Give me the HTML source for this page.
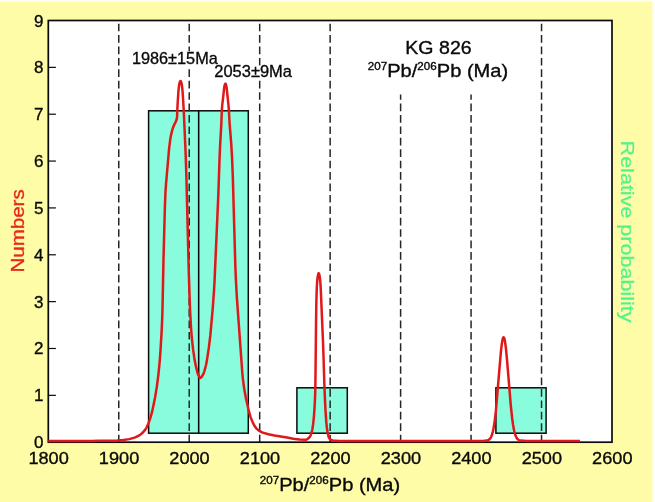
<!DOCTYPE html>
<html lang="en"><head><meta charset="utf-8"><title>KG 826 probability density plot</title>
<style>
html,body{margin:0;padding:0;background:#fffca8;}
body{width:655px;height:502px;overflow:hidden;}
svg{display:block;}
text{font-family:"Liberation Sans",Arial,Helvetica,sans-serif;}
</style></head><body>
<svg width="655" height="502" viewBox="0 0 655 502">
<rect x="0" y="0" width="655" height="502" fill="#fffca8"/>
<rect x="0" y="0" width="655" height="1.8" fill="#fffef2"/>
<rect x="652.3" y="0" width="2.7" height="502" fill="#fffef2"/>
<rect x="48.3" y="20.5" width="563.7" height="421.7" fill="#ffffff"/>
<rect x="148.6" y="110.8" width="50.10" height="322.40" fill="#88fcdc" stroke="#0a0a0a" stroke-width="1.5"/>
<rect x="198.7" y="110.8" width="49.60" height="322.40" fill="#88fcdc" stroke="#0a0a0a" stroke-width="1.5"/>
<rect x="296.9" y="387.8" width="50.40" height="45.40" fill="#88fcdc" stroke="#0a0a0a" stroke-width="1.5"/>
<rect x="495.9" y="387.8" width="50.20" height="45.40" fill="#88fcdc" stroke="#0a0a0a" stroke-width="1.5"/>
<line x1="118.76" y1="23.66" x2="118.76" y2="442.2" stroke="#262626" stroke-width="1.5" stroke-dasharray="7.7 3.717"/>
<line x1="189.23" y1="23.66" x2="189.23" y2="442.2" stroke="#262626" stroke-width="1.5" stroke-dasharray="7.7 3.717"/>
<line x1="259.69" y1="23.66" x2="259.69" y2="442.2" stroke="#262626" stroke-width="1.5" stroke-dasharray="7.7 3.717"/>
<line x1="330.15" y1="23.66" x2="330.15" y2="442.2" stroke="#262626" stroke-width="1.5" stroke-dasharray="7.7 3.717"/>
<line x1="541.54" y1="23.66" x2="541.54" y2="442.2" stroke="#262626" stroke-width="1.5" stroke-dasharray="7.7 3.717"/>
<line x1="400.61" y1="94.5" x2="400.61" y2="442.2" stroke="#262626" stroke-width="1.5" stroke-dasharray="7.7 3.717" stroke-dashoffset="2.34"/>
<line x1="471.07" y1="94.5" x2="471.07" y2="442.2" stroke="#262626" stroke-width="1.5" stroke-dasharray="7.7 3.717" stroke-dashoffset="2.34"/>
<rect x="130" y="51.2" width="90" height="15.8" fill="#ffffff"/>
<rect x="212" y="65.8" width="82" height="13.6" fill="#ffffff"/>
<rect x="48.3" y="20.5" width="563.7" height="421.7" fill="none" stroke="#0a0a0a" stroke-width="1.7"/>
<line x1="48.3" y1="395.34" x2="55.9" y2="395.34" stroke="#0a0a0a" stroke-width="1.2"/>
<line x1="48.3" y1="348.49" x2="55.9" y2="348.49" stroke="#0a0a0a" stroke-width="1.2"/>
<line x1="48.3" y1="301.63" x2="55.9" y2="301.63" stroke="#0a0a0a" stroke-width="1.2"/>
<line x1="48.3" y1="254.78" x2="55.9" y2="254.78" stroke="#0a0a0a" stroke-width="1.2"/>
<line x1="48.3" y1="207.92" x2="55.9" y2="207.92" stroke="#0a0a0a" stroke-width="1.2"/>
<line x1="48.3" y1="161.07" x2="55.9" y2="161.07" stroke="#0a0a0a" stroke-width="1.2"/>
<line x1="48.3" y1="114.21" x2="55.9" y2="114.21" stroke="#0a0a0a" stroke-width="1.2"/>
<line x1="48.3" y1="67.36" x2="55.9" y2="67.36" stroke="#0a0a0a" stroke-width="1.2"/>
<path d="M48.30 440.90 L54.55 440.90 L60.80 440.90 L67.05 440.90 L73.30 440.90 L79.55 440.90 L85.80 440.90 L92.05 440.90 L98.30 440.86 L104.55 440.79 L110.80 440.68 L117.05 440.40 L123.30 439.92 L129.30 439.12 L135.30 437.40 L139.80 435.11 L142.30 433.08 L145.30 429.58 L146.55 427.59 L148.30 423.77 L150.55 417.41 L152.30 410.89 L155.05 397.45 L156.80 386.91 L158.30 375.31 L159.55 363.01 L160.55 349.72 L161.55 332.81 L162.05 321.80 L162.30 315.00 L162.55 305.89 L163.55 256.69 L164.80 210.18 L165.30 196.08 L165.55 190.87 L166.05 183.69 L169.05 149.10 L170.05 140.81 L170.80 136.21 L171.80 131.62 L172.80 128.25 L174.30 124.57 L175.55 122.21 L176.55 119.84 L176.80 118.89 L177.05 117.30 L177.55 104.94 L178.30 93.10 L178.55 89.85 L179.05 85.50 L179.30 84.03 L179.80 82.19 L180.05 81.48 L180.30 81.02 L180.55 80.91 L180.80 81.17 L181.05 81.74 L181.55 83.41 L181.80 84.55 L182.30 88.30 L182.80 94.50 L183.80 111.56 L185.55 151.51 L186.30 173.60 L188.80 272.77 L189.80 303.63 L190.30 315.00 L191.05 327.96 L191.80 337.81 L193.05 349.16 L194.30 357.91 L195.80 365.90 L197.30 372.08 L198.05 374.39 L199.30 376.86 L199.80 377.55 L200.05 377.77 L200.30 377.89 L200.55 377.88 L200.80 377.78 L201.30 377.33 L202.55 375.52 L203.30 374.06 L204.30 371.35 L205.80 366.00 L206.80 361.12 L208.80 347.89 L210.30 335.69 L212.80 307.60 L214.05 289.77 L214.55 280.95 L218.30 195.39 L219.55 158.40 L220.05 146.64 L221.30 124.23 L221.80 110.70 L222.30 104.31 L223.30 95.90 L224.05 88.56 L224.30 86.79 L224.80 84.76 L225.05 84.04 L225.30 83.64 L225.55 83.69 L225.80 84.16 L226.30 85.89 L226.55 87.08 L227.05 91.34 L228.55 106.24 L229.05 113.21 L229.55 122.78 L231.30 144.60 L232.05 158.03 L232.80 176.49 L235.30 264.50 L235.80 277.82 L236.80 296.66 L242.30 372.78 L242.80 378.21 L244.05 387.81 L245.80 397.74 L249.05 411.97 L250.55 417.13 L252.80 422.62 L254.80 426.35 L256.05 428.10 L258.55 430.35 L262.05 432.36 L268.30 434.23 L274.55 435.49 L280.80 436.52 L287.05 437.51 L293.30 438.67 L299.55 439.52 L305.80 439.69 L306.55 439.52 L307.55 439.00 L309.55 437.25 L310.05 436.55 L310.80 434.94 L311.80 431.90 L312.30 429.67 L313.05 424.71 L313.55 420.45 L314.05 414.86 L314.55 407.44 L315.05 397.55 L315.30 389.52 L315.55 370.43 L316.05 321.97 L316.30 304.76 L316.55 294.56 L316.80 287.85 L317.05 283.41 L317.30 279.98 L317.55 277.62 L318.05 274.87 L318.30 273.88 L318.55 273.30 L318.80 273.25 L319.05 273.75 L319.30 274.68 L319.80 277.30 L320.05 279.16 L320.55 285.16 L320.80 289.84 L323.05 343.17 L323.55 357.53 L324.30 382.80 L325.05 401.81 L325.55 411.31 L326.30 422.18 L326.80 427.43 L327.55 432.17 L328.30 435.72 L328.80 437.36 L329.05 437.92 L329.30 438.30 L330.55 439.49 L331.80 440.26 L332.80 440.56 L339.05 440.89 L345.30 440.90 L351.55 440.90 L357.80 440.90 L364.05 440.90 L370.30 440.90 L376.55 440.90 L382.80 440.90 L389.05 440.90 L395.30 440.90 L401.55 440.90 L407.80 440.90 L414.05 440.90 L420.30 440.90 L426.55 440.90 L432.80 440.90 L439.05 440.90 L445.30 440.90 L451.55 440.90 L457.80 440.90 L464.05 440.90 L470.30 440.90 L476.55 440.90 L482.80 440.89 L486.80 440.61 L488.05 440.23 L489.05 439.64 L489.80 438.94 L490.55 437.91 L491.30 436.46 L492.05 434.46 L492.80 431.77 L493.55 428.26 L494.55 422.08 L495.80 411.72 L500.80 352.91 L501.55 345.98 L502.05 342.36 L502.55 339.65 L502.80 338.67 L503.05 337.95 L503.30 337.49 L503.55 337.31 L503.80 337.39 L504.05 337.74 L504.30 338.35 L504.55 339.23 L505.05 341.74 L505.80 347.23 L507.05 360.04 L510.80 405.70 L512.05 417.48 L513.05 424.77 L514.05 430.24 L514.80 433.30 L515.55 435.61 L516.30 437.30 L517.05 438.51 L517.80 439.35 L518.80 440.06 L520.30 440.59 L526.55 440.90 L532.80 440.90 L539.05 440.90 L545.30 440.90 L551.55 440.90 L557.80 440.90 L564.05 440.90 L570.30 440.90 L576.55 440.90 L580.05 440.90" fill="none" stroke="#e0181a" stroke-width="2.5" stroke-linejoin="round" stroke-linecap="butt"/>
<text transform="translate(43.40 448.20)" font-size="17.0" text-anchor="end" fill="#0a0a0a" stroke="#0a0a0a" stroke-width="0.35">0</text>
<text transform="translate(43.40 401.34)" font-size="17.0" text-anchor="end" fill="#0a0a0a" stroke="#0a0a0a" stroke-width="0.35">1</text>
<text transform="translate(43.40 354.49)" font-size="17.0" text-anchor="end" fill="#0a0a0a" stroke="#0a0a0a" stroke-width="0.35">2</text>
<text transform="translate(43.40 307.63)" font-size="17.0" text-anchor="end" fill="#0a0a0a" stroke="#0a0a0a" stroke-width="0.35">3</text>
<text transform="translate(43.40 260.78)" font-size="17.0" text-anchor="end" fill="#0a0a0a" stroke="#0a0a0a" stroke-width="0.35">4</text>
<text transform="translate(43.40 213.92)" font-size="17.0" text-anchor="end" fill="#0a0a0a" stroke="#0a0a0a" stroke-width="0.35">5</text>
<text transform="translate(43.40 167.07)" font-size="17.0" text-anchor="end" fill="#0a0a0a" stroke="#0a0a0a" stroke-width="0.35">6</text>
<text transform="translate(43.40 120.21)" font-size="17.0" text-anchor="end" fill="#0a0a0a" stroke="#0a0a0a" stroke-width="0.35">7</text>
<text transform="translate(43.40 73.36)" font-size="17.0" text-anchor="end" fill="#0a0a0a" stroke="#0a0a0a" stroke-width="0.35">8</text>
<text transform="translate(43.40 26.50)" font-size="17.0" text-anchor="end" fill="#0a0a0a" stroke="#0a0a0a" stroke-width="0.35">9</text>
<text transform="translate(48.60 463.70) scale(1.0623 1)" font-size="17.1" text-anchor="middle" fill="#0a0a0a" stroke="#0a0a0a" stroke-width="0.35">1800</text>
<text transform="translate(119.06 463.70) scale(1.0623 1)" font-size="17.1" text-anchor="middle" fill="#0a0a0a" stroke="#0a0a0a" stroke-width="0.35">1900</text>
<text transform="translate(189.53 463.70) scale(1.0623 1)" font-size="17.1" text-anchor="middle" fill="#0a0a0a" stroke="#0a0a0a" stroke-width="0.35">2000</text>
<text transform="translate(259.99 463.70) scale(1.0623 1)" font-size="17.1" text-anchor="middle" fill="#0a0a0a" stroke="#0a0a0a" stroke-width="0.35">2100</text>
<text transform="translate(330.45 463.70) scale(1.0623 1)" font-size="17.1" text-anchor="middle" fill="#0a0a0a" stroke="#0a0a0a" stroke-width="0.35">2200</text>
<text transform="translate(400.91 463.70) scale(1.0623 1)" font-size="17.1" text-anchor="middle" fill="#0a0a0a" stroke="#0a0a0a" stroke-width="0.35">2300</text>
<text transform="translate(471.38 463.70) scale(1.0623 1)" font-size="17.1" text-anchor="middle" fill="#0a0a0a" stroke="#0a0a0a" stroke-width="0.35">2400</text>
<text transform="translate(541.84 463.70) scale(1.0623 1)" font-size="17.1" text-anchor="middle" fill="#0a0a0a" stroke="#0a0a0a" stroke-width="0.35">2500</text>
<text transform="translate(612.30 463.70) scale(1.0623 1)" font-size="17.1" text-anchor="middle" fill="#0a0a0a" stroke="#0a0a0a" stroke-width="0.35">2600</text>
<text transform="translate(131.90 64.10) scale(1.0117 1)" font-size="16.1" fill="#0a0a0a" stroke="#0a0a0a" stroke-width="0.33">1986±15Ma</text>
<text transform="translate(214.30 77.00) scale(1.0230 1)" font-size="16.1" fill="#0a0a0a" stroke="#0a0a0a" stroke-width="0.33">2053±9Ma</text>
<text transform="translate(405.30 54.20) scale(1.1128 1)" font-size="17.6" fill="#0a0a0a" stroke="#0a0a0a" stroke-width="0.35">KG 826</text>
<text transform="translate(367.80 76.70) scale(1.1174 1)" font-size="18" fill="#0a0a0a" stroke="#0a0a0a" stroke-width="0.35"><tspan font-size="10.4" dy="-7">207</tspan><tspan dy="7">Pb/</tspan><tspan font-size="10.4" dy="-7">206</tspan><tspan dy="7">Pb (Ma)</tspan></text>
<text transform="translate(259.80 490.80) scale(1.1174 1)" font-size="18" fill="#0a0a0a" stroke="#0a0a0a" stroke-width="0.35"><tspan font-size="10.4" dy="-7">207</tspan><tspan dy="7">Pb/</tspan><tspan font-size="10.4" dy="-7">206</tspan><tspan dy="7">Pb (Ma)</tspan></text>
<text transform="translate(23.70 272.50) rotate(-90) scale(1.1029 1)" font-size="18.6" fill="#e8281e" stroke="#e8281e" stroke-width="0.35">Numbers</text>
<text transform="translate(620.60 140.60) rotate(90) scale(1.1585 1)" font-size="18.6" fill="#50f28c" stroke="#50f28c" stroke-width="0.2">Relative probability</text>
</svg></body></html>
